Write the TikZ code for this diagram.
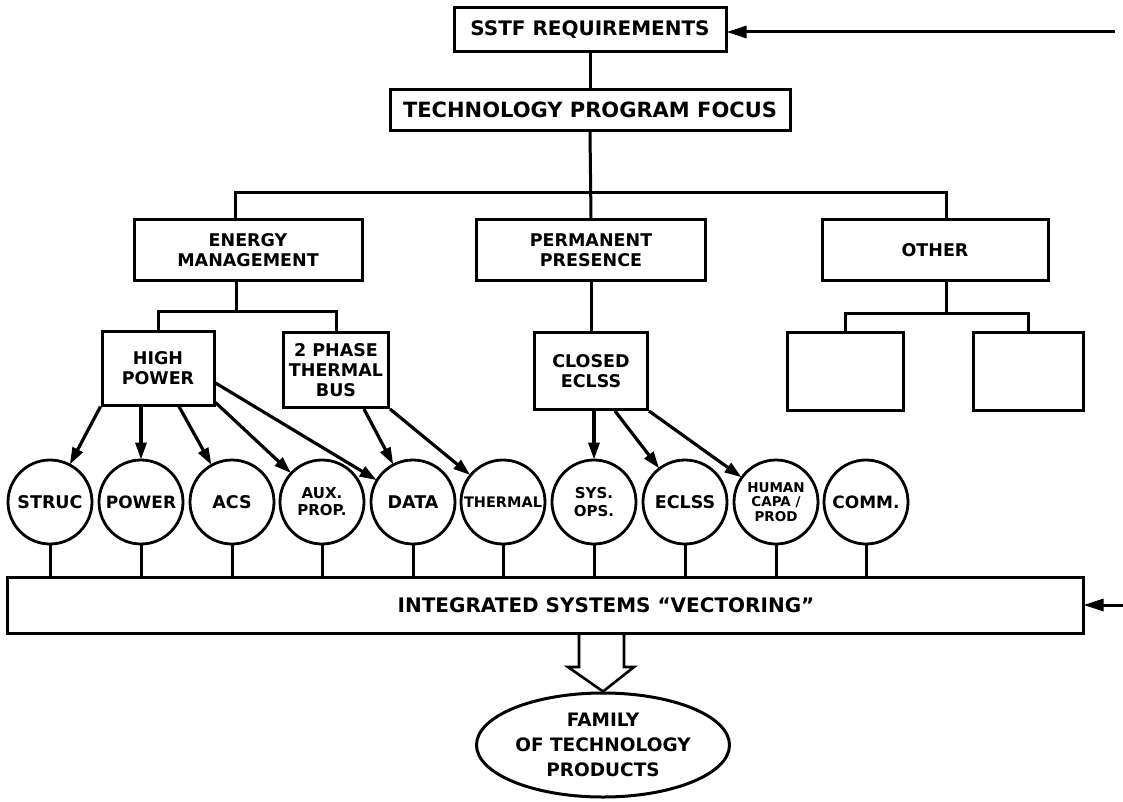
\documentclass[tikz,border=0pt]{standalone}
\usepackage{fontspec}
\setmainfont{DejaVu Sans}
\usetikzlibrary{shapes.geometric,arrows.meta}
\begin{document}
\begin{tikzpicture}[x=1pt,y=-1pt, line width=3pt,
  box/.style={draw, rectangle, inner sep=0pt, align=center, line width=3pt, font=\bfseries\fontsize{17.5}{20}\selectfont},
  circ/.style={draw, circle, minimum size=84pt, inner sep=0pt, align=center, line width=2.8pt, font=\bfseries\fontsize{17.5}{19}\selectfont},
  arr/.style={-{Triangle[length=17pt,width=11pt]}, line width=3.2pt, shorten >=-1pt},
  inarr/.style={-{Triangle[length=20pt,width=12pt]}, line width=3pt, shorten >=-1pt},
  stub/.style={line width=3pt}
]
\useasboundingbox (0,0) rectangle (1123,802);

% top boxes
\node[box, minimum width=272pt, minimum height=44pt, font=\bfseries\fontsize{20}{24}\selectfont] (sstf) at (590,30) {SSTF REQUIREMENTS};
\node[box, minimum width=400pt, minimum height=41pt, font=\bfseries\fontsize{21}{24}\selectfont] (tpf) at (590,110) {TECHNOLOGY PROGRAM FOCUS};

% second level
\node[box, minimum width=228pt, minimum height=60pt] (em) at (248,250) {ENERGY\\MANAGEMENT};
\node[box, minimum width=229pt, minimum height=60pt] (pp) at (591,250) {PERMANENT\\PRESENCE};
\node[box, minimum width=226pt, minimum height=60pt] (other) at (935,250) {OTHER};

% third level
\node[box, minimum width=112pt, minimum height=74pt] (hp) at (158,368) {HIGH\\POWER};
\node[box, minimum width=105pt, minimum height=75pt] (tph) at (336,370) {2 PHASE\\THERMAL\\BUS};
\node[box, minimum width=113pt, minimum height=77pt] (ce) at (591,371) {CLOSED\\ECLSS};
\node[box, minimum width=116pt, minimum height=78pt] (b1) at (845,371) {};
\node[box, minimum width=110pt, minimum height=78pt] (b2) at (1028,371) {};

% circles
\node[circ] (struc) at (50,502) {STRUC};
\node[circ, font=\bfseries\fontsize{17}{19}\selectfont] (power) at (141,502) {POWER};
\node[circ] (acs) at (232,502) {ACS};
\node[circ, font=\bfseries\fontsize{15}{17}\selectfont] (aux) at (322,502) {AUX.\\PROP.};
\node[circ] (data) at (413,502) {DATA};
\node[circ, font=\bfseries\fontsize{14.5}{16}\selectfont] (therm) at (503,502) {THERMAL};
\node[circ, font=\bfseries\fontsize{15}{18}\selectfont] (sysops) at (594,502) {SYS.\\OPS.};
\node[circ] (eclss) at (685,502) {ECLSS};
\node[circ, font=\bfseries\fontsize{13.5}{14.5}\selectfont] (human) at (776,502) {HUMAN\\CAPA /\\PROD};
\node[circ, font=\bfseries\fontsize{17}{19}\selectfont] (comm) at (866,502) {COMM.};

% bar
\node[box, minimum width=1076pt, minimum height=56pt] (bar) at (545,605) {};
\node[font=\bfseries\fontsize{20}{24}\selectfont, inner sep=0pt] (bartext) at (606,605) {INTEGRATED SYSTEMS “VECTORING”};

% ellipse
\node[draw, ellipse, line width=3pt, minimum width=253pt, minimum height=104pt, inner sep=0pt, align=center, font=\bfseries\fontsize{18.5}{25}\selectfont] (fam) at (603,745) {FAMILY\\OF TECHNOLOGY\\PRODUCTS};

% coordinates
\coordinate (br) at (590,193);
\coordinate (embr) at (236,311);
\coordinate (obr) at (946,313);
\coordinate (in1) at (1115,32);
\coordinate (in2) at (1123,605);

% tree connectors
\draw (sstf) -- (tpf);
\draw (tpf.south) -- (pp.north);
\draw ([xshift=-13pt]em.north) |- (br) -| ([xshift=11pt]other.north);
\draw ([xshift=-12pt]em.south) -- (embr);
\draw (hp.north) |- (embr) -| (tph.north);
\draw (pp) -- (ce);
\draw ([xshift=11pt]other.south) -- (obr);
\draw (b1.north) |- (obr) -| (b2.north);

% arrows to circles
\draw[arr] (hp.south west) -- (struc);
\draw[arr] (power |- hp.south) -- (power);
\draw[arr] ([xshift=21pt]hp.south) -- (acs);
\draw[arr] ([yshift=4pt]hp.south east) -- (aux);
\draw[arr] ([yshift=-15pt]hp.east) -- (data);
\draw[arr] ([xshift=28pt]tph.south) -- (data);
\draw[arr] (tph.south east) -- (therm);
\draw[arr] (sysops |- ce.south) -- (sysops);
\draw[arr] ([xshift=24pt]ce.south) -- (eclss);
\draw[arr] (ce.south east) -- (human);

% stubs to bar
\foreach \c in {struc,power,acs,aux,data,therm,sysops,eclss,human,comm}
  \draw[stub] (\c.south) -- (\c.south |- bar.north);

% incoming arrows on the right
\draw[inarr] (in1) -- (in1 -| sstf.east);
\draw[inarr] (in2) -- (bar.east);

% hollow block arrow
\draw[line width=2.6pt, line join=miter] (579,633) -- (579,667) -- (568,667) -- (fam.north) -- (634,667) -- (624,667) -- (624,633);
\end{tikzpicture}
\end{document}
